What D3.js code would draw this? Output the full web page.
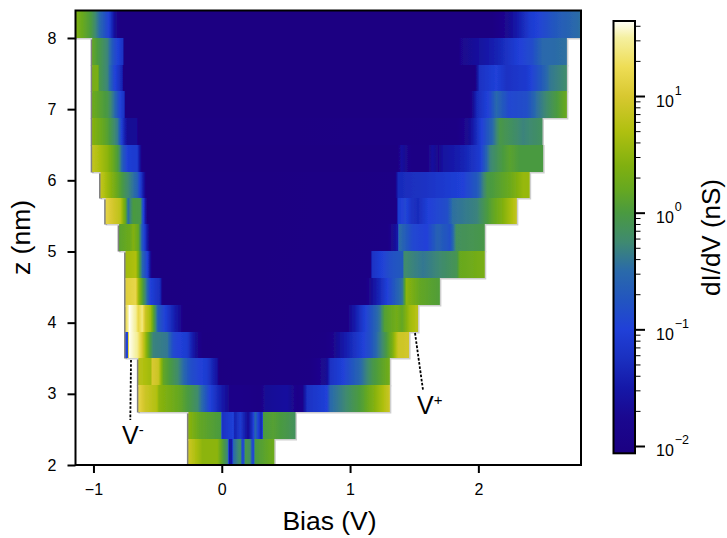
<!DOCTYPE html>
<html><head><meta charset="utf-8">
<script src="https://cdn.jsdelivr.net/npm/d3@7/dist/d3.min.js"></script>
<style>html,body{margin:0;padding:0;background:#fff}svg{display:block}text{font-family:"Liberation Sans",Arial,sans-serif;fill:#000}</style>
</head><body><svg id="c" width="727" height="538"></svg>
<script>
// z edges of the rows (nm), bottom to top
const zEdges=[2,2.37,2.75,3.12,3.5,3.87,4.25,4.63,5,5.38,5.75,6.12,6.5,6.87,7.25,7.62,8,8.39];
// dI/dV rows, [bias V, dI/dV nS], bottom row first
const row0=[[-0.26,8],[-0.15,3],[-0.035,3],[0.045,0.5],[0.06,0.03],[0.08,0.03],[0.09,0.3],[0.145,0.7],[0.165,0.08],[0.185,0.9],[0.22,0.7],[0.245,0.08],[0.26,1],[0.41,1.8]];
const row1=[[-0.26,3],[-0.17,1.5],[-0.01,1],[0.005,0.06],[0.09,0.1],[0.1,0.04],[0.145,0.08],[0.205,0.02],[0.245,0.08],[0.26,0.3],[0.3,0.05],[0.315,0.05],[0.325,1],[0.4,1.2],[0.575,0.7]];
const row2=[[-0.65,15],[-0.595,8],[-0.505,5],[-0.49,3],[-0.325,1.5],[-0.19,0.6],[-0.09,0.1],[0.045,0.02],[0.065,0.012],[0.12,0.012],[0.3,0.01],[0.34,0.02],[0.51,0.025],[0.59,0.012],[0.63,0.015],[0.665,0.06],[0.82,0.1],[0.845,0.3],[0.945,0.5],[1.10,1.2],[1.235,4],[1.31,8]];
const row3=[[-0.65,6],[-0.555,4],[-0.54,10],[-0.495,8],[-0.455,1.5],[-0.345,0.6],[-0.245,0.15],[-0.115,0.08],[-0.035,0.025],[-0.02,0.0087],[0.69,0.01],[0.82,0.02],[0.845,0.06],[0.945,0.1],[1.08,0.3],[1.18,0.9],[1.31,2]];
const row4=[[-0.75,0.1],[-0.735,0.1],[-0.725,44],[-0.66,30],[-0.62,10],[-0.57,1.5],[-0.535,0.5],[-0.425,0.4],[-0.375,0.12],[-0.27,0.08],[-0.185,0.015],[-0.15,0.0087],[0.8,0.01],[0.845,0.012],[0.92,0.025],[1.055,0.07],[1.155,0.15],[1.255,0.6],[1.325,2],[1.375,8],[1.46,9]];
const row5=[[-0.75,15],[-0.72,44],[-0.67,30],[-0.65,15],[-0.62,25],[-0.595,8],[-0.555,4],[-0.535,1.5],[-0.495,0.2],[-0.425,0.08],[-0.325,0.02],[-0.3,0.0087],[0.98,0.01],[1.0,0.02],[1.10,0.08],[1.235,0.4],[1.27,1.2],[1.365,2],[1.405,1.5],[1.465,4],[1.53,6]];
const row6=[[-0.75,12],[-0.67,15],[-0.65,4],[-0.595,0.5],[-0.555,0.1],[-0.48,0.05],[-0.46,0.0087],[1.12,0.01],[1.18,0.025],[1.29,0.1],[1.41,0.4],[1.44,3],[1.545,1.5],[1.70,1.1]];
const row7=[[-0.75,4],[-0.67,5],[-0.65,2],[-0.62,0.3],[-0.58,0.1],[-0.555,0.02],[-0.54,0.0087],[1.16,0.01],[1.17,0.06],[1.31,0.15],[1.41,0.2],[1.42,0.6],[1.57,0.4],[1.83,0.8],[1.855,1.6],[2.05,2.2]];
const row8=[[-0.8,1.3],[-0.71,1.8],[-0.69,2.6],[-0.65,1.5],[-0.62,0.2],[-0.58,0.03],[-0.555,0.0087],[1.29,0.01],[1.37,0.03],[1.38,0.35],[1.49,0.12],[1.6,0.1],[1.68,0.25],[1.78,0.15],[1.83,0.7],[2.05,0.9]];
const row9=[[-0.905,14],[-0.79,6],[-0.75,1.5],[-0.73,0.3],[-0.69,1],[-0.635,0.9],[-0.61,0.1],[-0.58,0.0087],[1.36,0.01],[1.375,0.08],[1.43,0.12],[1.48,0.06],[1.53,0.05],[1.61,0.1],[1.685,0.12],[1.76,0.15],[1.80,0.35],[1.99,0.5],[2.09,1.2],[2.19,2.5],[2.30,7]];
const row10=[[-0.945,7],[-0.84,2.2],[-0.75,0.7],[-0.66,0.25],[-0.61,0.03],[-0.585,0.0087],[1.35,0.01],[1.375,0.05],[1.57,0.06],[1.88,0.1],[1.99,0.2],[2.07,0.9],[2.245,1.7],[2.35,3.5],[2.40,3.5]];
const row11=[[-1.01,7],[-0.89,3],[-0.81,1],[-0.77,0.2],[-0.73,0.09],[-0.66,0.08],[-0.64,0.03],[-0.62,0.0087],[1.37,0.0087],[1.4,0.025],[1.45,0.015],[1.48,0.01],[1.6,0.01],[1.64,0.025],[1.69,0.015],[1.72,0.025],[1.88,0.04],[2.01,0.08],[2.09,0.5],[2.19,1],[2.245,1.3],[2.32,1],[2.505,1]];
const row12=[[-1.01,2.8],[-0.89,1.2],[-0.81,0.4],[-0.77,0.06],[-0.735,0.02],[-0.66,0.02],[-0.65,0.0087],[1.83,0.01],[1.93,0.02],[2.01,0.08],[2.11,0.3],[2.17,0.9],[2.35,0.5],[2.50,0.7]];
const row13=[[-1.01,1.8],[-0.89,0.9],[-0.84,0.35],[-0.79,0.1],[-0.76,0.06],[-0.75,0.0087],[1.93,0.0087],[1.99,0.05],[2.09,0.12],[2.14,0.3],[2.245,0.12],[2.38,0.15],[2.455,0.35],[2.61,1.0],[2.69,1.7]];
const row14=[[-1.01,2.2],[-0.965,2.2],[-0.955,0.9],[-0.89,0.5],[-0.84,0.12],[-0.775,0.04],[-0.765,0.0087],[1.97,0.0087],[2.01,0.06],[2.14,0.1],[2.22,0.06],[2.38,0.08],[2.48,0.18],[2.56,0.4],[2.69,0.6]];
const row15=[[-1.01,1.5],[-0.89,0.5],[-0.84,0.15],[-0.77,0.06],[-0.76,0.0087],[1.85,0.0087],[1.86,0.015],[2.14,0.04],[2.30,0.09],[2.42,0.14],[2.50,0.3],[2.69,0.35]];
const row16=[[-1.14,2.5],[-1.02,1],[-0.95,0.3],[-0.88,0.1],[-0.83,0.02],[-0.79,0.0087],[2.11,0.0087],[2.245,0.02],[2.40,0.08],[2.61,0.2],[2.80,0.35]];
const rows=[row0,row1,row2,row3,row4,row5,row6,row7,row8,row9,row10,row11,row12,row13,row14,row15,row16];
// colormap
const cmapLog=[-2.0626,-1.75,-1.5,-1.25,-1,-0.75,-0.5,-0.25,0,0.2,0.4,0.7,1,1.25,1.5,1.643];
const cmapColors=["#1b0082","#1a0890","#1518a8","#1a30c0","#2040d8","#2255c0","#2a6aaa","#3f8a70","#4a9a40","#66a820","#80b010","#b0c010","#d8c830","#eedd55","#f5f0a0","#fffff8"];
const xTicks=[-1,0,1,2];
const yTicks=[2,3,4,5,6,7,8];
const cbarMajor=[0.01,0.1,1,10];
const cbarMinor=[0.02,0.03,0.04,0.05,0.06,0.07,0.08,0.09,0.2,0.3,0.4,0.5,0.6,0.7,0.8,0.9,2,3,4,5,6,7,8,9,20,30,40];
const cbarExp=["\u22122","\u22121","0","1"];

const W={l:75.5,r:581,t:10.5,b:465};
const svg=d3.select("#c");
const x=d3.scaleLinear().domain([-1.14,2.8]).range([W.l,W.r]);
const y=d3.scaleLinear().domain([2,8.386]).range([W.b,W.t]);
const colorLog=d3.scaleLinear().domain(cmapLog).range(cmapColors).clamp(true);
const defs=svg.append("defs");
defs.append("clipPath").attr("id","plot").append("rect").attr("x",W.l).attr("y",W.t).attr("width",W.r-W.l).attr("height",W.b-W.t);
const f=defs.append("filter").attr("id","soft").attr("filterUnits","userSpaceOnUse").attr("x",0).attr("y",0).attr("width",727).attr("height",538);
f.append("feGaussianBlur").attr("stdDeviation",0.7);
rows.forEach((r,i)=>{
  const g=defs.append("linearGradient").attr("id","row"+i).attr("gradientUnits","userSpaceOnUse")
    .attr("x1",x(r[0][0])).attr("x2",x(r[r.length-1][0])).attr("y1",0).attr("y2",0);
  const b0=r[0][0],span=r[r.length-1][0]-b0;
  r.forEach((p,k)=>{
    const n=k<r.length-1?6:1;
    for(let s=0;s<n;s++){
      const t=s/n,q=r[k+1]||p;
      const b=p[0]+(q[0]-p[0])*t;
      const l=Math.log10(p[1])+(Math.log10(q[1])-Math.log10(p[1]))*t;
      g.append("stop").attr("offset",(b-b0)/span).attr("stop-color",colorLog(l));
    }
  });
});
const heat=svg.append("g").attr("clip-path","url(#plot)").append("g").attr("filter","url(#soft)");
const rowBox=(r,i)=>{const x0=x(r[0][0]),x1=x(r[r.length-1][0]),yt=Math.round(y(zEdges[i+1])),yb=Math.round(y(zEdges[i]));return {x0,x1,yt,yb};};
// soft grey halo at the edge of each row
rows.forEach((r,i)=>{
  const {x0,x1,yt,yb}=rowBox(r,i);
  heat.append("rect").attr("x",x0).attr("y",yt).attr("width",x1-x0+1.5).attr("height",yb-yt+1.5).attr("fill","#cfcfcf");
  heat.append("rect").attr("x",x0-1.5).attr("y",yt).attr("width",3).attr("height",yb-yt+0.5).attr("fill","#808080");
});
rows.forEach((r,i)=>{
  const {x0,x1,yt,yb}=rowBox(r,i);
  heat.append("rect").attr("x",x0).attr("y",yt).attr("width",x1-x0).attr("height",yb-yt).attr("fill",`url(#row${i})`);
});
// axes
const style=(g,fs,w)=>{g.select(".domain").remove();g.selectAll("line").attr("stroke","#000").attr("stroke-width",w);g.selectAll("text").attr("font-size",fs);};
svg.append("g").attr("transform",`translate(0,${W.b})`)
  .call(d3.axisBottom(x).tickValues(xTicks).tickSize(8).tickPadding(11).tickFormat(d=>d<0?"\u2212"+(-d):d))
  .call(g=>style(g,16,2));
svg.append("g").attr("transform",`translate(${W.l},0)`)
  .call(d3.axisLeft(y).tickValues(yTicks).tickSize(8).tickPadding(11).tickFormat(d=>d))
  .call(g=>style(g,16,2));
svg.append("rect").attr("x",W.l).attr("y",W.t).attr("width",W.r-W.l).attr("height",W.b-W.t).attr("fill","none").attr("stroke","#000").attr("stroke-width",2);
svg.append("text").attr("x",329.5).attr("y",530).attr("text-anchor","middle").attr("font-size",26.5).text("Bias (V)");
svg.append("text").attr("transform","translate(30,237.5) rotate(-90)").attr("text-anchor","middle").attr("font-size",26.5).text("z (nm)");
// annotations
const line=d3.line();
svg.append("path").attr("d",line([[131,360],[130.3,420]])).attr("fill","none").attr("stroke","#000").attr("stroke-width",1.8).attr("stroke-dasharray","2.6 1.6");
svg.append("path").attr("d",line([[415,333],[423,390]])).attr("fill","none").attr("stroke","#000").attr("stroke-width",1.8).attr("stroke-dasharray","2.6 1.6");
const ann=(px,py,s)=>{const t=svg.append("text").attr("x",px).attr("y",py).attr("font-size",25).text("V");
  t.append("tspan").attr("dy",-9).attr("font-size",15).text(s);};
ann(122,444,"-");ann(417,414,"+");
// colorbar
const C={l:613.5,r:635,t:21,b:453.3};
const cy=d3.scaleLog().domain([Math.pow(10,cmapLog[0]),Math.pow(10,cmapLog[cmapLog.length-1])]).range([C.b,C.t]);
const cg=defs.append("linearGradient").attr("id","cbar").attr("x1",0).attr("x2",0).attr("y1",1).attr("y2",0);
cmapLog.forEach((l,i)=>cg.append("stop").attr("offset",(l-cmapLog[0])/(cmapLog[cmapLog.length-1]-cmapLog[0])).attr("stop-color",cmapColors[i]));
svg.append("rect").attr("x",C.l).attr("y",C.t).attr("width",C.r-C.l).attr("height",C.b-C.t).attr("fill","url(#cbar)").attr("stroke","#000").attr("stroke-width",2);
svg.append("g").attr("transform",`translate(${C.r},0)`)
  .call(d3.axisRight(cy).tickValues(cbarMinor).tickSize(5.5).tickFormat(""))
  .call(g=>style(g,14,1));
const cax=svg.append("g").attr("transform",`translate(${C.r},0)`)
  .call(d3.axisRight(cy).tickValues(cbarMajor).tickSize(10).tickFormat(""))
  .call(g=>style(g,14,2));
cax.selectAll("g.tick").each(function(d,i){
  const t=d3.select(this).append("text").attr("x",21).attr("y",10).attr("font-size",16).attr("text-anchor","start").text("10");
  t.append("tspan").attr("dy",-12).attr("dx",1).attr("font-size",12.5).text(cbarExp[i]);
});
svg.append("text").attr("transform","translate(720,237.5) rotate(-90)").attr("text-anchor","middle").attr("font-size",26).text("dI/dV (nS)");
</script></body></html>
